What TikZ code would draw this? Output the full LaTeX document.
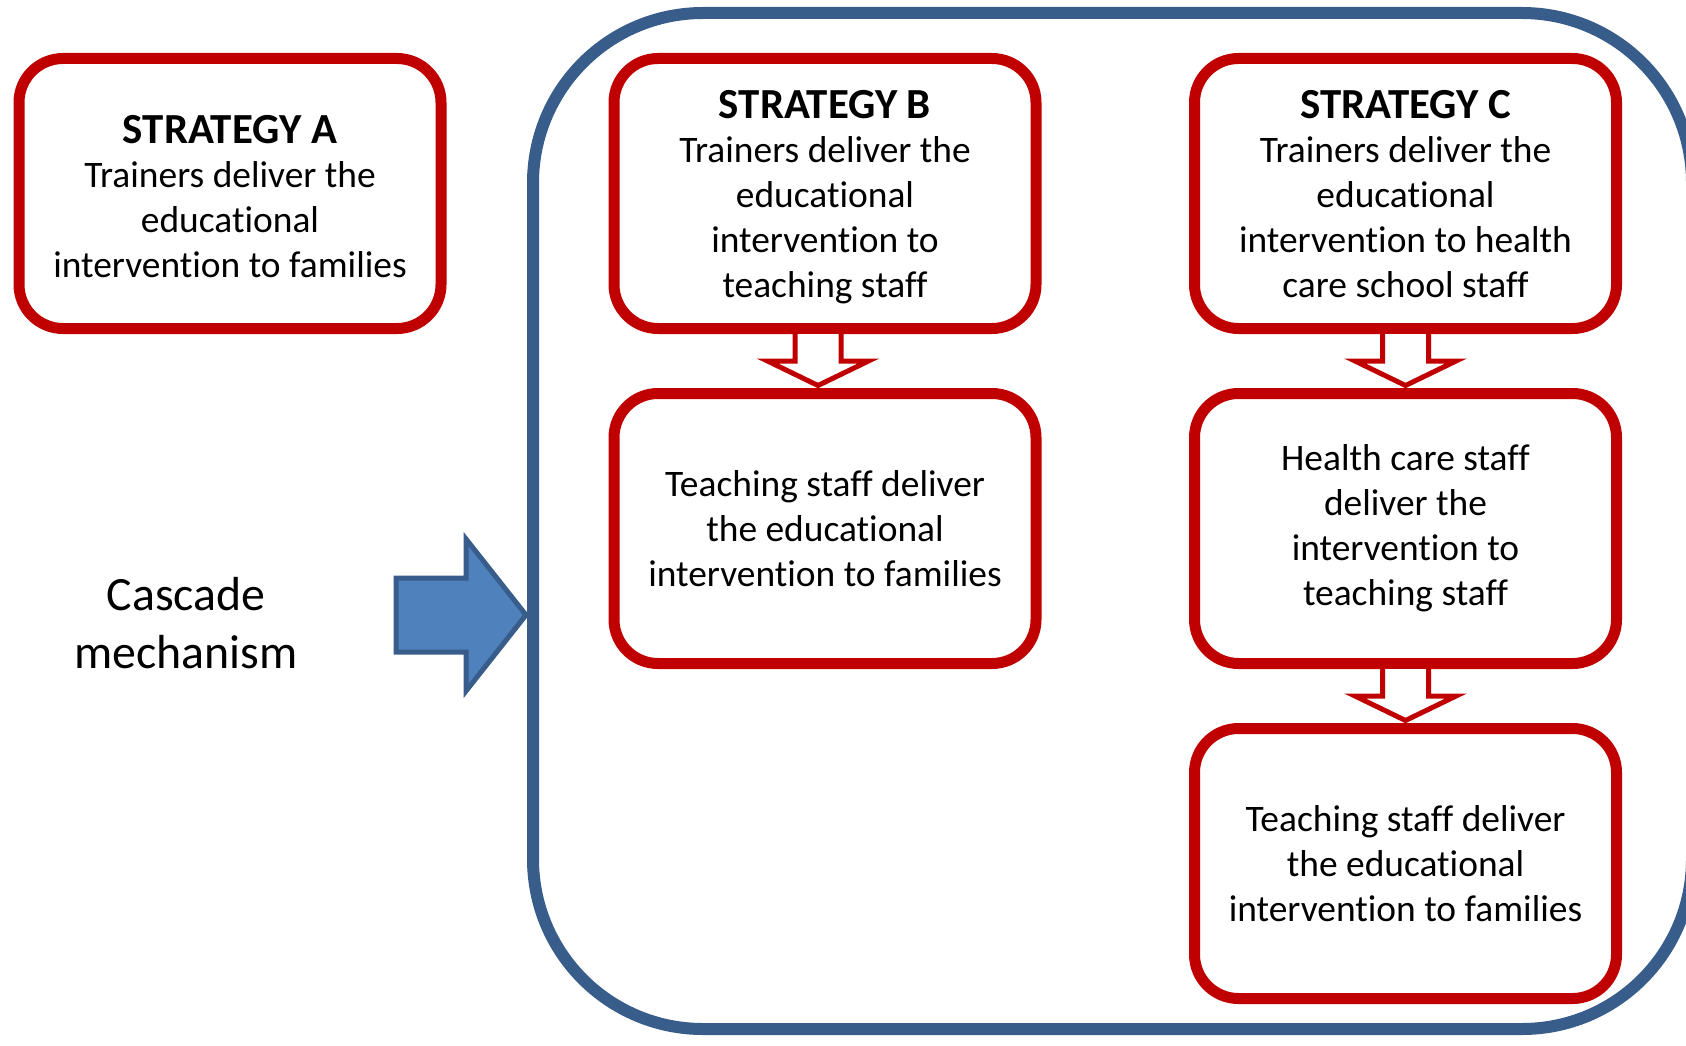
\documentclass[tikz,border=0pt]{standalone}
\usepackage{fontspec}
\setmainfont{Carlito}[Ligatures=NoCommon]
\definecolor{boxred}{HTML}{C00000}
\definecolor{frameblue}{HTML}{385D8A}
\definecolor{arrowblue}{HTML}{4F81BD}
\newcommand{\strattitle}[1]{\rule{0pt}{0.70cm}{\fontsize{24.4}{29}\selectfont\bfseries #1}}

\begin{document}
\begin{tikzpicture}[node distance=6.7cm,
  box/.style={rectangle, draw=boxred, line width=0.22cm, rounded corners=0.88cm, fill=white, align=center, minimum width=8.44cm, minimum height=5.4cm, outer sep=0.11cm, font=\fontsize{21.3}{25.6}\selectfont},
  hollow/.style={draw=boxred, line width=0.1cm, fill=white, line join=miter}]
\useasboundingbox (0,0) rectangle (33.72,-20.9);
\clip (0,0) rectangle (33.72,-20.9);

\node (cascade) [align=center, font=\fontsize{27.2}{32.6}\selectfont] at (3.72,-12.46) {Cascade\\mechanism};
\draw[draw=frameblue, fill=arrowblue, line width=0.1cm, line join=miter] (7.92,-11.56) -- (9.32,-11.56) -- (9.32,-10.78) -- (10.52,-12.30) -- (9.32,-13.82) -- (9.32,-13.04) -- (7.92,-13.04) -- cycle;

\node (frame) [rectangle, draw=frameblue, line width=0.24cm, rounded corners=3.4cm, minimum width=23.18cm, minimum height=20.32cm] at (22.25,-10.42) {};

\node (stratA) [box] at (4.6,-3.87) {\strattitle{STRATEGY A}\\[-0.5pt]Trainers deliver the\\educational\\intervention to families};

\node (stratB) [box, right of=stratA, xshift=5.2cm] {\strattitle{STRATEGY B}\\[-0.5pt]Trainers deliver the\\educational\\intervention to\\teaching staff};
\node (teachB) [box, below of=stratB] {Teaching staff deliver\\the educational\\intervention to families};

\node (stratC) [box, right of=stratB, xshift=4.91cm] {\strattitle{STRATEGY C}\\[-0.5pt]Trainers deliver the\\educational\\intervention to health\\care school staff\vphantom{g}};
\node (healthC) [box, below of=stratC] {Health care staff\\deliver the\\intervention to\\teaching staff};
\node (teachC) [box, below of=healthC] {Teaching staff deliver\\the educational\\intervention to families};

% hollow block arrows between the steps
\foreach \from/\to/\dx in {stratB/teachB/-0.14, stratC/healthC/0, healthC/teachC/0}
  \draw[hollow] ([xshift=\dx cm-0.46cm]\from.south) -- ([xshift=\dx cm-0.46cm, yshift=-0.54cm]\from.south)
    -- ([xshift=\dx cm-1.01cm, yshift=-0.54cm]\from.south) -- ([xshift=\dx cm, yshift=0.05cm]\to.north)
    -- ([xshift=\dx cm+1.01cm, yshift=-0.54cm]\from.south) -- ([xshift=\dx cm+0.46cm, yshift=-0.54cm]\from.south)
    -- ([xshift=\dx cm+0.46cm]\from.south);

\end{tikzpicture}
\end{document}
